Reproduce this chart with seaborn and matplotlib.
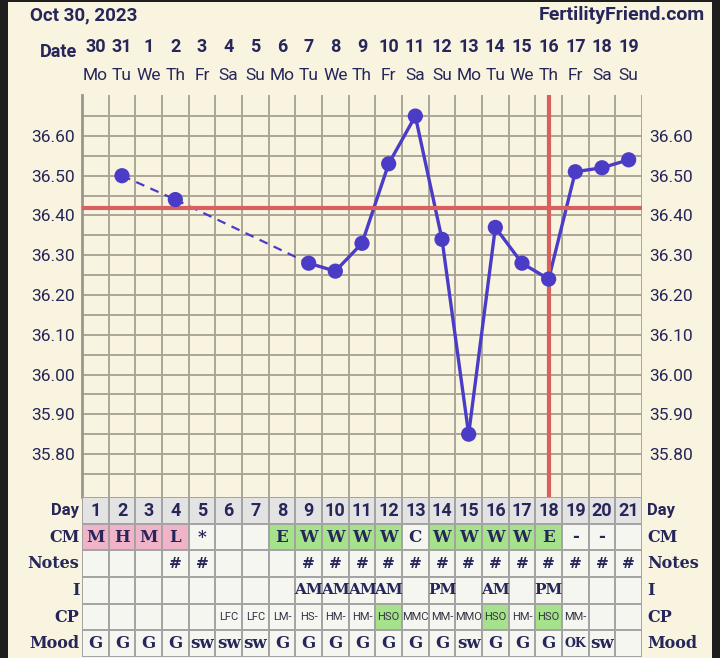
import pandas as pd
import seaborn as sns
import matplotlib.pyplot as plt
import matplotlib.transforms as mtransforms
from matplotlib.patches import Rectangle

# dados do grafico
dates = [30, 31, 1, 2, 3, 4, 5, 6, 7, 8, 9, 10, 11, 12, 13, 14, 15, 16, 17, 18, 19]
weekdays = ['Mo', 'Tu', 'We', 'Th', 'Fr', 'Sa', 'Su', 'Mo', 'Tu', 'We', 'Th',
            'Fr', 'Sa', 'Su', 'Mo', 'Tu', 'We', 'Th', 'Fr', 'Sa', 'Su']
cycle_days = list(range(1, 22))
temp_days = [2, 4, 9, 10, 11, 12, 13, 14, 15, 16, 17, 18, 19, 20, 21]
temps = [36.50, 36.44, 36.28, 36.26, 36.33, 36.53, 36.65, 36.34, 35.85,
         36.37, 36.28, 36.24, 36.51, 36.52, 36.54]
coverline = 36.42
ovulation_day = 18
y_ticks = [35.80, 35.90, 36.00, 36.10, 36.20, 36.30, 36.40, 36.50, 36.60]

cm = ['M', 'H', 'M', 'L', '*', '', '', 'E', 'W', 'W', 'W', 'W', 'C', 'W', 'W', 'W', 'W', 'E', '-', '-', '']
cm_kind = ['p', 'p', 'p', 'p', '', '', '', 'g', 'g', 'g', 'g', 'g', '', 'g', 'g', 'g', 'g', 'g', '', '', '']
notes = ['', '', '', '#', '#', '', '', '', '#', '#', '#', '#', '#', '#', '#', '#', '#', '#', '#', '#', '#']
intercourse = ['', '', '', '', '', '', '', '', 'AM', 'AM', 'AM', 'AM', '', 'PM', '', 'AM', '', 'PM', '', '', '']
cp = ['', '', '', '', '', 'LFC', 'LFC', 'LM-', 'HS-', 'HM-', 'HM-', 'HSO', 'MMC', 'MM-', 'MMO',
      'HSO', 'HM-', 'HSO', 'MM-', '', '']
mood = ['G', 'G', 'G', 'G', 'sw', 'sw', 'sw', 'G', 'G', 'G', 'G', 'G', 'G', 'G', 'sw',
        'G', 'G', 'G', 'OK', 'sw', '']
row_labels = ['Day', 'CM', 'Notes', 'I', 'CP', 'Mood']

# cores
BG = '#F8F4DF'
NAVY = '#26265A'
BLUE = '#4A3CC6'
RED = '#D8615F'
GRID = '#A9A699'
CELL = '#F6F6F0'
DAYCELL = '#E3E3E3'
PINK = '#F1B3C7'
GREEN = '#A5E28B'
SERIF = 'DejaVu Serif'

sns.set_theme(style='white')
plt.rcParams['font.family'] = ['Roboto', 'DejaVu Sans']

W, H = 720, 658
fig = plt.figure(figsize=(W / 100, H / 100), dpi=100, facecolor='#1E1E1E')
fig.add_artist(Rectangle((8 / W, 0), 704 / W, 1 - 2 / H, transform=fig.transFigure,
                         facecolor=BG, edgecolor='none', zorder=0))


def px(x, y, w, h):
    return [x / W, 1 - (y + h) / H, w / W, h / H]


# grafico de temperatura
ax = fig.add_axes(px(82, 95, 560, 402))
ax.set_facecolor(BG)

df = pd.DataFrame({'day': temp_days, 'temp': temps})
solid_rows, dashed_rows = [], []
for i in range(len(df) - 1):
    a, b = df.iloc[i], df.iloc[i + 1]
    target = solid_rows if b['day'] - a['day'] == 1 else dashed_rows
    target.append({'seg': i, 'day': a['day'], 'temp': a['temp']})
    target.append({'seg': i, 'day': b['day'], 'temp': b['temp']})
solid_df = pd.DataFrame(solid_rows)
dashed_df = pd.DataFrame(dashed_rows)

sns.lineplot(data=solid_df, x='day', y='temp', units='seg', estimator=None,
             color=BLUE, lw=2.4, ax=ax, zorder=3)
n_solid = len(ax.lines)
sns.lineplot(data=dashed_df, x='day', y='temp', units='seg', estimator=None,
             color=BLUE, lw=1.6, ax=ax, zorder=3)
for line in ax.lines[n_solid:]:
    line.set_dashes((4, 3))

ax.axhline(coverline, color=RED, lw=3, zorder=4)
ax.axvline(ovulation_day, color=RED, lw=3, zorder=4)

sns.scatterplot(data=df, x='day', y='temp', color=BLUE, s=120, edgecolor='none',
                ax=ax, zorder=5)

ax.set_xticks([d + 0.5 for d in range(0, 22)], minor=True)
ax.set_xticks([])
ax.set_yticks(y_ticks)
ax.set_yticklabels([f'{v:.2f}' for v in y_ticks])
ax.set_yticks([v - 0.05 for v in y_ticks] + [36.65], minor=True)
ax.set_xlim(0.5, 21.5)
ax.set_ylim(35.692, 36.703)
ax.grid(which='major', axis='y', color=GRID, lw=1.4)
ax.grid(which='minor', color=GRID, lw=1.4)
ax.set_axisbelow(True)
ax.tick_params(axis='y', which='both', length=0, pad=5, labelsize=12.5,
               labelcolor=NAVY, labelright=True)
ax.set_xlabel('')
ax.set_ylabel('')
for s in ['top', 'right', 'bottom']:
    ax.spines[s].set_visible(False)
ax.spines['left'].set_color('#9A978A')
ax.spines['left'].set_linewidth(2)

# cabecalho
fig.text(30 / W, 1 - 15 / H, 'Oct 30, 2023', ha='left', va='center',
         fontsize=13.5, fontweight='bold', color=NAVY)
fig.text(705 / W, 1 - 15 / H, 'FertilityFriend.com', ha='right', va='center',
         fontsize=14, fontweight='bold', color=NAVY)
fig.text(77 / W, 1 - 52 / H, 'Date', ha='right', va='center',
         fontsize=13, fontweight='bold', color=NAVY)
trans = mtransforms.blended_transform_factory(ax.transData, fig.transFigure)
for d, dt, wd in zip(cycle_days, dates, weekdays):
    ax.text(d, 1 - 47 / H, str(dt), transform=trans, ha='center', va='center',
            fontsize=13, fontweight='bold', color=NAVY)
    ax.text(d, 1 - 75 / H, wd, transform=trans, ha='center', va='center',
            fontsize=12.5, color=NAVY)

# tabela
axt = fig.add_axes(px(82, 497, 560, 160))
axt.set_xlim(0.5, 21.5)
axt.set_ylim(6, 0)
axt.axis('off')

kind_color = {'p': PINK, 'g': GREEN, '': CELL}
for i, d in enumerate(cycle_days):
    fills = [DAYCELL, kind_color[cm_kind[i]], CELL, CELL,
             GREEN if cp[i] == 'HSO' else CELL, CELL]
    for r, fc in enumerate(fills):
        axt.add_patch(Rectangle((d - 0.5, r), 1, 1, facecolor=fc,
                                edgecolor='#A3A3A3', lw=1.4, zorder=1))
    axt.text(d, 0.52, str(d), ha='center', va='center', fontsize=13,
             fontweight='bold', color=NAVY, zorder=3)
    axt.text(d, 1.5, cm[i], ha='center', va='center', fontsize=12,
             fontweight='bold', family=SERIF, color=NAVY, zorder=3)
    axt.text(d, 2.5, notes[i], ha='center', va='center', fontsize=11,
             fontweight='bold', family=SERIF, color=NAVY, zorder=3)
    axt.text(d, 3.5, intercourse[i], ha='center', va='center', fontsize=11,
             fontweight='bold', family=SERIF, color=NAVY, zorder=3)
    axt.text(d, 4.5, cp[i], ha='center', va='center', fontsize=8,
             color='#333344', zorder=3)
    axt.text(d, 5.5, mood[i], ha='center', va='center',
             fontsize=9 if mood[i] == 'OK' else 12,
             fontweight='bold', family=SERIF, color=NAVY, zorder=3)

for r, lab in enumerate(row_labels):
    kw = dict(va='center', fontsize=12, fontweight='bold', color=NAVY)
    if lab != 'Day':
        kw['family'] = SERIF
        kw['fontsize'] = 11.5
    axt.text(0.4, r + 0.5, lab, ha='right', **kw)
    axt.text(21.7, r + 0.5, lab, ha='left', **kw)

fig.savefig('out.png', dpi=100, facecolor=fig.get_facecolor())
